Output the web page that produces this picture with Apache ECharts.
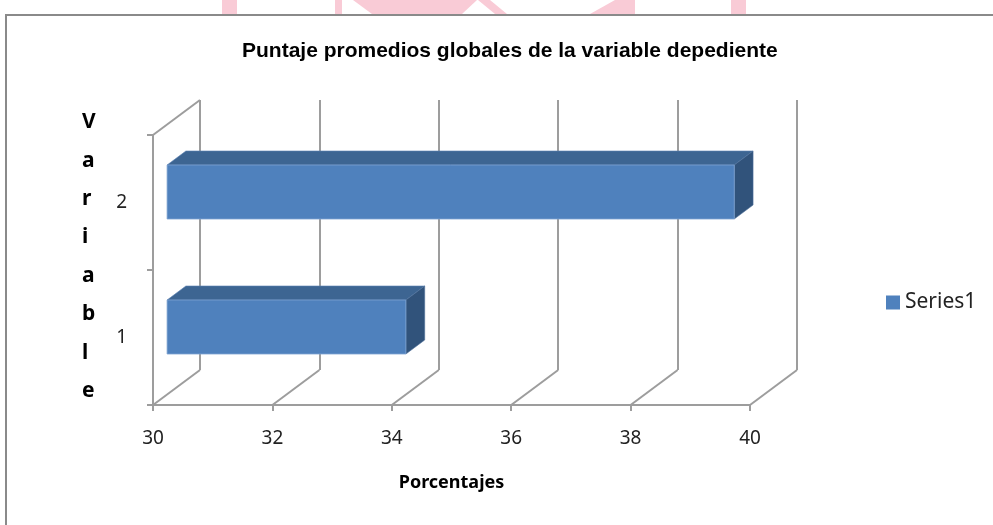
<!DOCTYPE html>
<html>
<head>
<meta charset="utf-8">
<script src="https://cdn.jsdelivr.net/npm/echarts@6/dist/echarts.min.js"></script>
<style>
html,body{margin:0;padding:0;background:#fff;}
#chart{width:993px;height:525px;}
</style>
</head>
<body>
<div id="chart"></div>
<script>
// ---- data ----
const categories = ['1', '2'];
const seriesValues = [34.0, 39.5];
const seriesName = 'Series1';
const xTickValues = [30, 32, 34, 36, 38, 40];
const titleText = 'Puntaje promedios globales de la variable depediente';
const xAxisName = 'Porcentajes';
const yAxisName = 'Variable';

// ---- style constants ----
const DX = 47, DY = -35;           // 3D depth offset (back wall vs front plane)
const F0 = 0.3, F1 = 0.7;          // bar depth range
const GRID_COLOR = '#9d9d9d';
const xMin = xTickValues[0], xMax = xTickValues[xTickValues.length - 1];

const chart = echarts.init(document.getElementById('chart'));

const option = {
  backgroundColor: '#fff',
  animation: false,
  title: {
    text: titleText,
    left: 237,
    top: 36,
    textStyle: { fontFamily: 'Liberation Sans', fontWeight: 'bold', fontSize: 21, color: '#000' }
  },
  legend: {
    left: 881, top: 287,
    icon: 'rect', itemWidth: 14, itemHeight: 14, itemGap: 8,
    textStyle: { fontFamily: 'Noto Sans', fontSize: 21, color: '#222' },
    data: [seriesName]
  },
  graphic: [
    { type: 'rect', shape: { x: 6, y: 15, width: 1100, height: 700 }, style: { fill: 'none', stroke: '#8a8a8a', lineWidth: 2 }, z: -1 },
    { type: 'rect', shape: { x: 222, y: 0, width: 15, height: 14 }, style: { fill: '#f9cbd6' }, z: -2 },
    { type: 'rect', shape: { x: 335, y: 0, width: 7, height: 14 }, style: { fill: '#f9cbd6' }, z: -2 },
    { type: 'polygon', shape: { points: [[353, 0], [477, 0], [462, 14], [372, 14]] }, style: { fill: '#f9cbd6' }, z: -2 },
    { type: 'polygon', shape: { points: [[478, 0], [490, 0], [507, 14], [495, 14]] }, style: { fill: '#f9cbd6' }, z: -2 },
    { type: 'polygon', shape: { points: [[615, 0], [635, 0], [635, 14], [590, 14]] }, style: { fill: '#f9cbd6' }, z: -2 },
    { type: 'rect', shape: { x: 731, y: 0, width: 15, height: 14 }, style: { fill: '#f9cbd6' }, z: -2 },
    { type: 'text', left: 82, top: 103, z: 10,
      style: { text: yAxisName.split('').join('\n'), fontFamily: 'Noto Sans', fontWeight: 'bold', fontSize: 21,
               lineHeight: 38.4, fill: '#000', align: 'center', width: 20 } }
  ],
  grid: [
    { left: 153, right: 243, top: 135, bottom: 120 },
    { left: 153 + DX, right: 243 - DX, top: 135 + DY, bottom: 120 - DY }
  ],
  xAxis: [
    {
      gridIndex: 0, type: 'value', min: xMin, max: xMax, interval: 2,
      axisLine: { show: true, lineStyle: { color: GRID_COLOR, width: 2 } },
      axisTick: { show: true, length: 6, lineStyle: { color: GRID_COLOR, width: 2 } },
      splitLine: { show: false },
      axisLabel: { margin: 24, fontFamily: 'Noto Sans', fontSize: 19, color: '#222' },
      name: xAxisName, nameLocation: 'middle', nameGap: 69,
      nameTextStyle: { fontFamily: 'Noto Sans', fontWeight: 'bold', fontSize: 18, color: '#000' }
    },
    {
      gridIndex: 1, type: 'value', min: xMin, max: xMax, interval: 2,
      axisLine: { show: false }, axisTick: { show: false }, axisLabel: { show: false },
      splitLine: { show: true, lineStyle: { color: GRID_COLOR, width: 2 } }
    }
  ],
  yAxis: [
    {
      gridIndex: 0, type: 'category', data: categories,
      axisLine: { show: true, lineStyle: { color: GRID_COLOR, width: 2 } },
      axisTick: { show: true, length: 6, lineStyle: { color: GRID_COLOR, width: 2 } },
      axisLabel: { margin: 26, fontFamily: 'Noto Sans', fontSize: 19, color: '#222' },
      splitLine: { show: false }
    },
    { gridIndex: 1, type: 'category', data: categories, show: false }
  ],
  series: [
    {
      type: 'custom', name: 'floor', xAxisIndex: 0, yAxisIndex: 0, silent: true, z: 1,
      data: xTickValues.map(v => [v, 0]),
      renderItem: function (params, api) {
        const cs = params.coordSys;
        const p = api.coord([api.value(0), 0]);
        const yb = cs.y + cs.height;
        const children = [{
          type: 'line',
          shape: { x1: p[0], y1: yb, x2: p[0] + DX, y2: yb + DY },
          style: { stroke: GRID_COLOR, lineWidth: 2 }
        }];
        if (params.dataIndex === 0) {
          children.push({
            type: 'line',
            shape: { x1: cs.x, y1: cs.y, x2: cs.x + DX, y2: cs.y + DY },
            style: { stroke: GRID_COLOR, lineWidth: 2 }
          });
        }
        return { type: 'group', children: children };
      }
    },
    {
      type: 'custom', name: seriesName, xAxisIndex: 0, yAxisIndex: 0, z: 5,
      itemStyle: { color: '#4F81BD' },
      data: seriesValues.map((v, i) => [v, i]),
      renderItem: function (params, api) {
        const start = api.coord([xMin, api.value(1)]);
        const end = api.coord([api.value(0), api.value(1)]);
        const band = api.size([0, 1])[1];
        const h = band * 0.4;
        const x0 = start[0] + F0 * DX, x1 = end[0] + F0 * DX;
        const yc = start[1] + F0 * DY;
        const top = yc - h / 2, bot = yc + h / 2;
        const dx = (F1 - F0) * DX, dy = (F1 - F0) * DY;
        return {
          type: 'group',
          children: [
            { type: 'polygon', shape: { points: [[x0, top], [x0 + dx, top + dy], [x1 + dx, top + dy], [x1, top]] },
              style: { fill: '#3D6592', stroke: '#5a82b4', lineWidth: 0.6 } },
            { type: 'polygon', shape: { points: [[x1, top], [x1 + dx, top + dy], [x1 + dx, bot + dy], [x1, bot]] },
              style: { fill: '#31537B', stroke: '#4d6f99', lineWidth: 0.6 } },
            { type: 'rect', shape: { x: x0, y: top, width: x1 - x0, height: h },
              style: { fill: '#4F81BD', stroke: '#7ea2d2', lineWidth: 0.8 } }
          ]
        };
      }
    }
  ]
};
chart.setOption(option);
</script>
</body>
</html>
